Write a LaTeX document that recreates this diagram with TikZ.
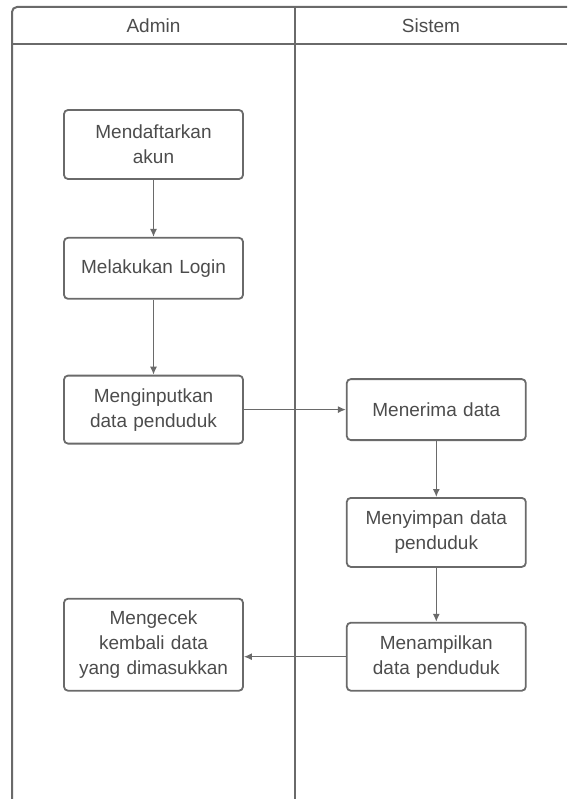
\documentclass[tikz,border=0pt]{standalone}
\usepackage{fontspec}
\setmainfont{Liberation Sans}
\usepackage{tikz}
\usetikzlibrary{positioning,arrows.meta}
\definecolor{linegray}{HTML}{6A6A6A}
\definecolor{textgray}{HTML}{4C4C4C}

\begin{document}
\begin{tikzpicture}[x=1pt,y=1pt,>={Latex[length=8pt,width=7pt]}]
    \tikzstyle{every node}=[font=\fontsize{19}{25}\selectfont,text=textgray];
    \tikzstyle{box}=[draw=linegray,line width=1.8pt,rounded corners=4pt,minimum width=179pt,text width=172pt,align=center,inner sep=0pt];
    \tikzstyle{flow}=[draw=linegray,line width=1.3pt,->];
    \tikzstyle{lane}=[draw=linegray,line width=2pt];

    \useasboundingbox (0,0) rectangle (567,-799);

    % swimlanes
    \path[lane,rounded corners=5pt] (12,-799) -- (12,-7) -- (567,-7);
    \path[lane] (12,-44) -- (567,-44);
    \path[lane] (295,-7) -- (295,-799);
    \node (hadmin) at (153.5,-25.5) {Admin};
    \node (hsistem) at (431,-25.5) {Sistem};

    % admin
    \node[box,minimum height=69pt] (m1) at (153.5,-144.5) {Mendaftarkan\\akun};
    \node[box,minimum height=61pt] (m2) [below=57pt of m1] {Melakukan Login};
    \node[box,minimum height=68pt] (m3) [below=75pt of m2] {Menginputkan\\data penduduk};

    % sistem
    \node[box,minimum height=61pt] (s1) [right=102pt of m3] {Menerima data};
    \node[box,minimum height=69pt] (s2) [below=56pt of s1] {Menyimpan data\\penduduk};
    \node[box,minimum height=68pt] (s3) [below=54pt of s2] {Menampilkan\\data penduduk};

    \node[box,minimum height=92pt,anchor=south] (m4) at (m3.center |- s3.south) {Mengecek\\kembali data\\yang dimasukkan};

    \draw[flow] (m1) -- (m2);
    \draw[flow] (m2) -- (m3);
    \draw[flow] (m3) -- (s1);
    \draw[flow] (s1) -- (s2);
    \draw[flow] (s2) -- (s3);
    \draw[flow] (s3.west) -- (s3.west -| m4.east);

\end{tikzpicture}
\end{document}
